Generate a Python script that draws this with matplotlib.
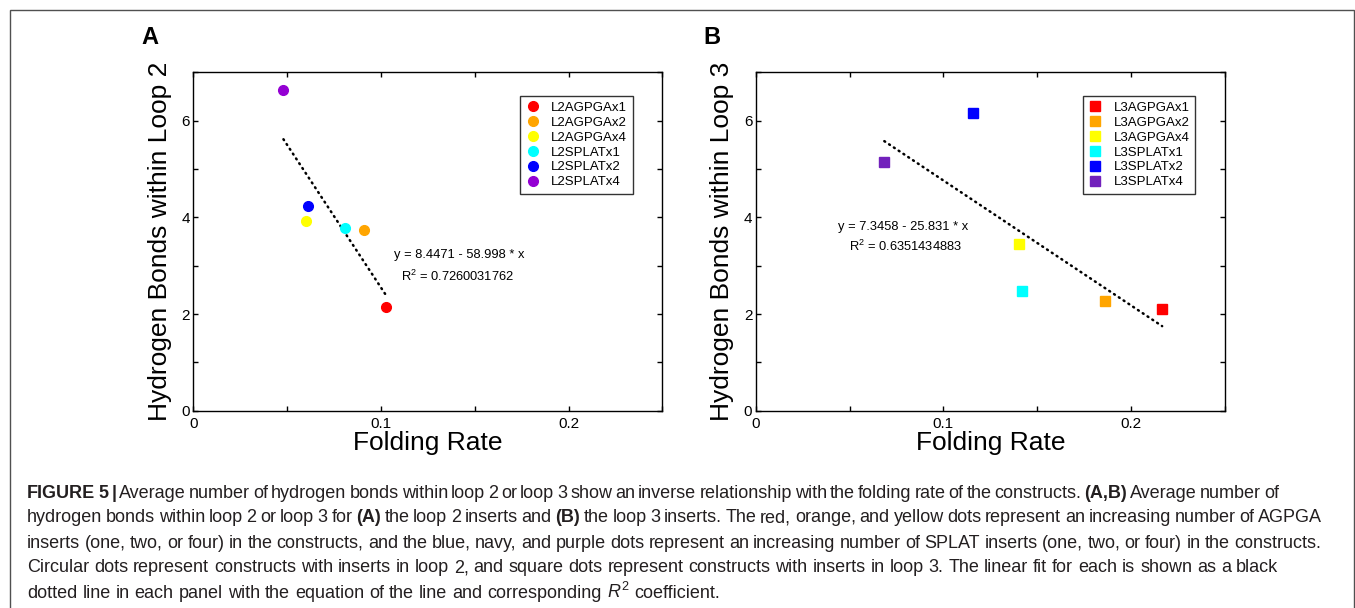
import matplotlib
matplotlib.use('Agg')
import matplotlib.pyplot as plt
from matplotlib.patches import Rectangle
import numpy as np

plt.rcParams['font.family'] = ['Liberation Sans', 'DejaVu Sans']
plt.rcParams['mathtext.fontset'] = 'custom'
plt.rcParams['mathtext.rm'] = 'Liberation Sans'
plt.rcParams['mathtext.it'] = 'Liberation Sans:italic'
plt.rcParams['mathtext.bf'] = 'Liberation Sans:bold'

W, H, DPI = 1355, 608, 100

# ---------------- data ----------------
labels_a = ['L2AGPGAx1', 'L2AGPGAx2', 'L2AGPGAx4', 'L2SPLATx1', 'L2SPLATx2', 'L2SPLATx4']
rate_a = [0.1025, 0.0911, 0.0600, 0.0810, 0.0611, 0.0480]
hbonds_a = [2.14, 3.73, 3.93, 3.79, 4.23, 6.63]
fit_a = (8.4471, 58.998)          # y = a - b * x
r2_a = '0.7260031762'

labels_b = ['L3AGPGAx1', 'L3AGPGAx2', 'L3AGPGAx4', 'L3SPLATx1', 'L3SPLATx2', 'L3SPLATx4']
rate_b = [0.2166, 0.1862, 0.1405, 0.1418, 0.1157, 0.0685]
hbonds_b = [2.10, 2.28, 3.45, 2.47, 6.16, 5.14]
fit_b = (7.3458, 25.831)
r2_b = '0.6351434883'

colors_a = ['#FF0000', '#FFA500', '#FFFF00', '#00FFFF', '#0000FF', '#9400D3']
colors_b = ['#FF0000', '#FFA500', '#FFFF00', '#00FFFF', '#0000FF', '#7221BC']

x_ticks = [0, 0.1, 0.2]
x_ticklabels = ['0', '0.1', '0.2']
y_ticks = [0, 2, 4, 6]

caption_lines = [
    [("FIGURE 5 |", 'bold'),
     ("Average number of hydrogen bonds within loop 2 or loop 3 show an inverse relationship with the folding rate of the constructs.", 'normal'),
     ("(A,B)", 'bold'), ("Average number of", 'normal')],
    [("hydrogen bonds within loop 2 or loop 3 for", 'normal'), ("(A)", 'bold'),
     ("the loop 2 inserts and", 'normal'), ("(B)", 'bold'),
     ("the loop 3 inserts. The red, orange, and yellow dots represent an increasing number of AGPGA", 'normal')],
    [("inserts (one, two, or four) in the constructs, and the blue, navy, and purple dots represent an increasing number of SPLAT inserts (one, two, or four) in the constructs.", 'normal')],
    [("Circular dots represent constructs with inserts in loop 2, and square dots represent constructs with inserts in loop 3. The linear fit for each is shown as a black", 'normal')],
    [("dotted line in each panel with the equation of the line and corresponding", 'normal'),
     ("$R^2$", 'normal'), ("coefficient.", 'normal')],
]
caption_right = [1279, 1322, 1321, 1278, None]
caption_left = 27
caption_baselines = [497.5, 522.5, 547.5, 572.5, 597.5]

# ---------------- figure ----------------
fig = plt.figure(figsize=(W / DPI, H / DPI), dpi=DPI)
fig.patch.set_facecolor('white')
renderer = fig.canvas.get_renderer()

# outer frame
fig.add_artist(Rectangle((10 / W, -0.05), (1353.5 - 10) / W, 1 - 10 / H + 0.05,
                         transform=fig.transFigure, fill=False,
                         edgecolor='#505050', linewidth=1.0))

ax_w = 469 / W
ax_h = 338.5 / H
ax_bottom = 1 - 410.8 / H
axA = fig.add_axes([193.4 / W, ax_bottom, ax_w, ax_h])
axB = fig.add_axes([755.8 / W, ax_bottom, ax_w, ax_h])


def setup(ax, ylabel):
    ax.set_xlim(0, 0.25)
    ax.set_ylim(0, 7)
    ax.set_xticks(x_ticks)
    ax.set_xticklabels(x_ticklabels)
    ax.set_xticks([0.05, 0.15, 0.25], minor=True)
    ax.set_yticks(y_ticks)
    ax.set_yticklabels([str(v) for v in y_ticks])
    ax.set_yticks([1, 3, 5, 7], minor=True)
    ax.tick_params(which='both', direction='in', top=True, right=True,
                   length=3.8, width=1.0, labelsize=11, colors='black')
    ax.tick_params(axis='x', pad=4.5)
    ax.tick_params(axis='y', pad=2.5)
    for s in ax.spines.values():
        s.set_linewidth(1.0)
    ax.set_xlabel('Folding Rate', fontsize=19)
    ax.xaxis.label.set_va('center')
    ax.xaxis.set_label_coords(0.5, -0.094)
    ax.set_ylabel(ylabel, fontsize=19)
    ax.yaxis.label.set_va('center')
    ax.yaxis.label.set_ha('center')
    ax.yaxis.set_label_coords(-0.072, 0.5)


def panel(ax, rate, hb, labels, colors, marker, ms, fit, r2, eq_pos, r2_pos, ylabel):
    setup(ax, ylabel)
    xs = np.array([min(rate), max(rate)])
    ax.plot(xs, fit[0] - fit[1] * xs, color='black', lw=1.8,
            linestyle=(0, (0.4, 1.9)), dash_capstyle='round', zorder=2)
    for x, y, lab, c in zip(rate, hb, labels, colors):
        ax.plot([x], [y], marker=marker, ms=ms, color=c, mec=c, ls='none',
                label=lab, zorder=3)
    ax.text(eq_pos[0], eq_pos[1], f'y = {fit[0]} - {fit[1]} * x', transform=ax.transAxes,
            ha='center', va='center', fontsize=9.3)
    ax.text(r2_pos[0], r2_pos[1], f'R$^2$ = {r2}', transform=ax.transAxes,
            ha='center', va='center', fontsize=9.3)
    leg = ax.legend(loc='upper right', bbox_to_anchor=(0.9375, 0.9306), borderaxespad=0,
                    fontsize=9.5, frameon=True, fancybox=False, edgecolor='#333333',
                    framealpha=1, handlelength=1.0, handletextpad=0.9, labelspacing=0.2,
                    borderpad=0.45)
    leg.get_frame().set_linewidth(1.0)


panel(axA, rate_a, hbonds_a, labels_a, colors_a, 'o', 7, fit_a, r2_a,
      (0.566, 0.461), (0.563, 0.397), 'Hydrogen Bonds within Loop 2')
panel(axB, rate_b, hbonds_b, labels_b, colors_b, 's', 6.5, fit_b, r2_b,
      (0.314, 0.543), (0.320, 0.485), 'Hydrogen Bonds within Loop 3')

fig.text(149.5 / W, 1 - 38 / H, 'A', fontsize=17, fontweight='bold', ha='center', va='center')
fig.text(712 / W, 1 - 38 / H, 'B', fontsize=17, fontweight='bold', ha='center', va='center')


# ---------------- caption ----------------
def width_of(s, fs, weight='normal'):
    t = fig.text(0, 0, s, fontsize=fs, fontweight=weight)
    w = t.get_window_extent(renderer).width
    t.remove()
    return w


def tokens_of(line):
    toks = []
    for text, st in line:
        if text.startswith('$'):
            toks.append((text, st))
        else:
            for w in text.split(' '):
                if w:
                    toks.append((w, st))
    return toks


def place_line(line, x0, x1, base, fs):
    toks = tokens_of(line)
    space = width_of('a a', fs) - width_of('aa', fs)
    for _ in range(4):
        widths = [width_of(w, fs, st) for w, st in toks]
        if x1 is None:
            gap = space
            break
        gap = (x1 - x0 - sum(widths)) / (len(toks) - 1)
        if gap >= 0.6 * space:
            break
        fs = fs * (x1 - x0 - (len(toks) - 1) * 0.7 * space) / sum(widths)
        space = width_of('a a', fs) - width_of('aa', fs)
    x = x0
    for (w, st), wd in zip(toks, widths):
        fig.text(x / W, 1 - base / H, w, fontsize=fs, fontweight=st,
                 ha='left', va='baseline', color='#231F20')
        x += wd + gap


# base font size from the unjustified last line
fs0 = 12.0
toks5 = tokens_of(caption_lines[4])
sp0 = width_of('a a', fs0) - width_of('aa', fs0)
nat5 = sum(width_of(w, fs0, st) for w, st in toks5) + sp0 * (len(toks5) - 1)
fs_cap = fs0 * (721.7 - caption_left) / nat5

for line, xr, base in zip(caption_lines, caption_right, caption_baselines):
    place_line(line, caption_left, xr, base, fs_cap)

fig.savefig('out.png', dpi=DPI, facecolor='white')
